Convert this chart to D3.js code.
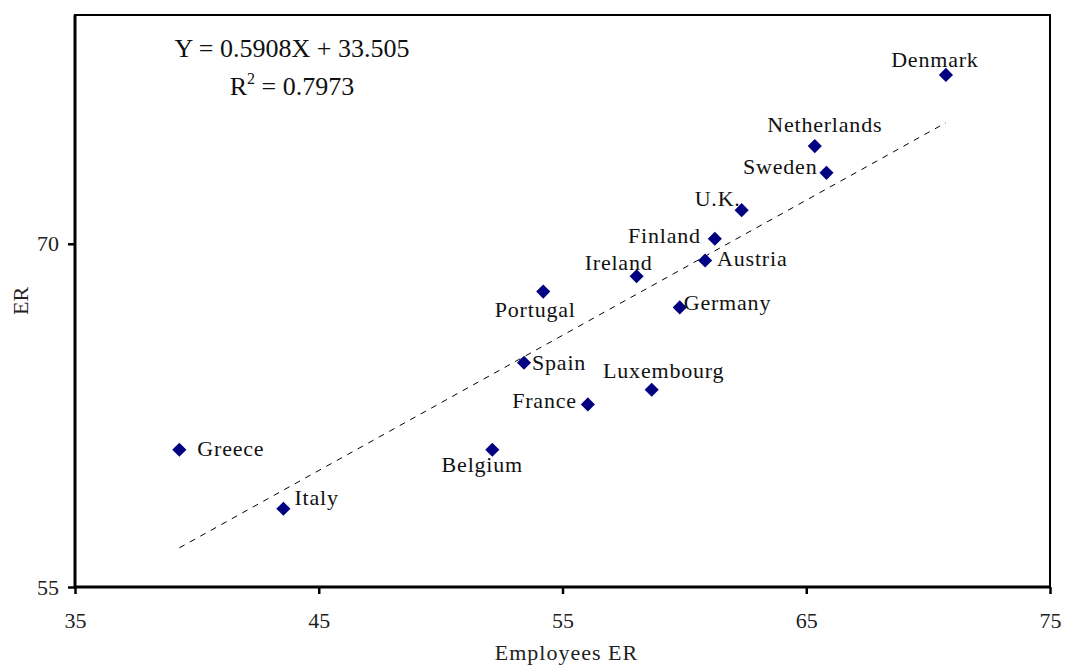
<!DOCTYPE html>
<html>
<head>
<meta charset="utf-8">
<script src="https://cdn.jsdelivr.net/npm/d3@7"></script>
<style>
  html, body { margin: 0; padding: 0; background: #fff; }
  svg { display: block; font-family: "Liberation Serif", "Times New Roman", serif; }
</style>
</head>
<body>
<svg id="chart" width="1065" height="666"></svg>
<script>
// Country employment rates: employees ER (x) against overall ER (y)
const countries = ["Denmark", "Netherlands", "Sweden", "U.K.", "Finland", "Austria", "Ireland",
                   "Germany", "Portugal", "Spain", "Luxembourg", "France", "Belgium", "Greece", "Italy"];
const employeesER = [70.73, 65.35, 65.83, 62.35, 61.25, 60.85, 58.04,
                     59.81, 54.21, 53.42, 58.66, 56.04, 52.12, 39.28, 43.55];
const totalER = [77.38, 74.27, 73.10, 71.47, 70.22, 69.27, 68.58,
                 67.22, 67.91, 64.80, 63.62, 62.98, 61.00, 61.00, 58.42];

// Axis ticks
const xTicks = [35, 45, 55, 65, 75];
const yTicks = [55, 70];

// Fitted linear trend
const slope = 0.5908;
const intercept = 33.505;
const rSquared = 0.7973;

const svg = d3.select("#chart");
const plotLeft = 75, plotRight = 1050, plotTop = 15, plotBottom = 587;
const serif = "'Liberation Serif', 'Times New Roman', serif";

const x = d3.scaleLinear().domain([35, 75]).range([plotLeft, plotRight]);
const y = d3.scaleLinear().domain([55, 80]).range([plotBottom, plotTop]);

// Label placement around each marker: [anchor, dx, dy]
const placement = {
  "Denmark": ["middle", -11, -8],
  "Netherlands": ["middle", 10, -14],
  "Sweden": ["end", -9, 1],
  "U.K.": ["end", -1, -4],
  "Finland": ["end", -14, 4],
  "Austria": ["start", 12, 5],
  "Ireland": ["middle", -18, -6],
  "Germany": ["start", 4, 3],
  "Portugal": ["middle", -8, 25],
  "Spain": ["start", 8, 7],
  "Luxembourg": ["middle", 12, -12],
  "France": ["end", -11, 4],
  "Belgium": ["middle", -10, 22],
  "Greece": ["start", 18, 6],
  "Italy": ["start", 11, -4]
};

const points = countries.map((c, i) => ({ name: c, ex: employeesER[i], er: totalER[i] }));

// Plot frame
svg.append("rect")
  .attr("x", plotLeft).attr("y", plotTop)
  .attr("width", plotRight - plotLeft).attr("height", plotBottom - plotTop)
  .attr("fill", "none").attr("stroke", "#000").attr("stroke-width", 2);

// Axes
const xAxis = d3.axisBottom(x).tickValues(xTicks).tickSize(7).tickPadding(18).tickFormat(d3.format("d"));
const yAxis = d3.axisLeft(y).tickValues(yTicks).tickSize(7).tickPadding(9).tickFormat(d3.format("d"));

const gx = svg.append("g").attr("transform", `translate(0,${plotBottom})`).call(xAxis);
const gy = svg.append("g").attr("transform", `translate(${plotLeft},0)`).call(yAxis);

[gx, gy].forEach(g => {
  g.attr("font-family", serif);
  g.select(".domain").attr("stroke", "#000").attr("stroke-width", 3);
  g.selectAll(".tick line").attr("stroke", "#000").attr("stroke-width", 2.5);
  g.selectAll(".tick text")
    .attr("fill", "#222")
    .style("font-family", serif)
    .style("font-size", "22px");
});
gx.select(".domain").attr("d", `M${plotLeft},0H${plotRight}`);
gy.select(".domain").attr("d", `M0,${plotBottom}V${plotTop}`);

// Axis titles
svg.append("text")
  .attr("x", (plotLeft + plotRight) / 2 + 4).attr("y", 660)
  .attr("text-anchor", "middle")
  .style("font-family", serif)
  .style("font-size", "22px").style("letter-spacing", "1px").attr("fill", "#222")
  .text("Employees ER");

svg.append("text")
  .attr("transform", `translate(28,${301}) rotate(-90)`)
  .attr("text-anchor", "middle")
  .style("font-family", serif)
  .style("font-size", "22px").attr("fill", "#222")
  .text("ER");

// Trend line over the observed range
const xExtent = d3.extent(employeesER);
svg.append("line")
  .attr("x1", x(xExtent[0])).attr("y1", y(slope * xExtent[0] + intercept))
  .attr("x2", x(xExtent[1])).attr("y2", y(slope * xExtent[1] + intercept))
  .attr("stroke", "#000").attr("stroke-width", 1)
  .attr("stroke-dasharray", "6,6");

// Equation text
svg.append("text")
  .attr("x", 292).attr("y", 57)
  .attr("text-anchor", "middle")
  .style("font-family", serif)
  .style("font-size", "26px").attr("fill", "#111")
  .text(`Y = ${slope}X + ${intercept}`);

const r2 = svg.append("text")
  .attr("x", 292).attr("y", 95)
  .attr("text-anchor", "middle")
  .style("font-family", serif)
  .style("font-size", "26px").attr("fill", "#111");
r2.append("tspan").text("R");
r2.append("tspan").attr("dy", -11).style("font-size", "16px").text("2");
r2.append("tspan").attr("dy", 11).text(` = ${rSquared}`);

// Markers
const diamond = d3.symbol().type(d3.symbolSquare).size(100);
svg.append("g").selectAll("path")
  .data(points)
  .join("path")
  .attr("d", diamond)
  .attr("transform", d => `translate(${x(d.ex)},${y(d.er)}) rotate(45)`)
  .attr("fill", "#000080");

// Country labels
svg.append("g").selectAll("text")
  .data(points)
  .join("text")
  .attr("x", d => x(d.ex) + placement[d.name][1])
  .attr("y", d => y(d.er) + placement[d.name][2])
  .attr("text-anchor", d => placement[d.name][0])
  .style("font-family", serif)
  .style("font-size", "22px")
  .style("letter-spacing", "0.8px")
  .attr("fill", "#111")
  .text(d => d.name);
</script>
</body>
</html>
